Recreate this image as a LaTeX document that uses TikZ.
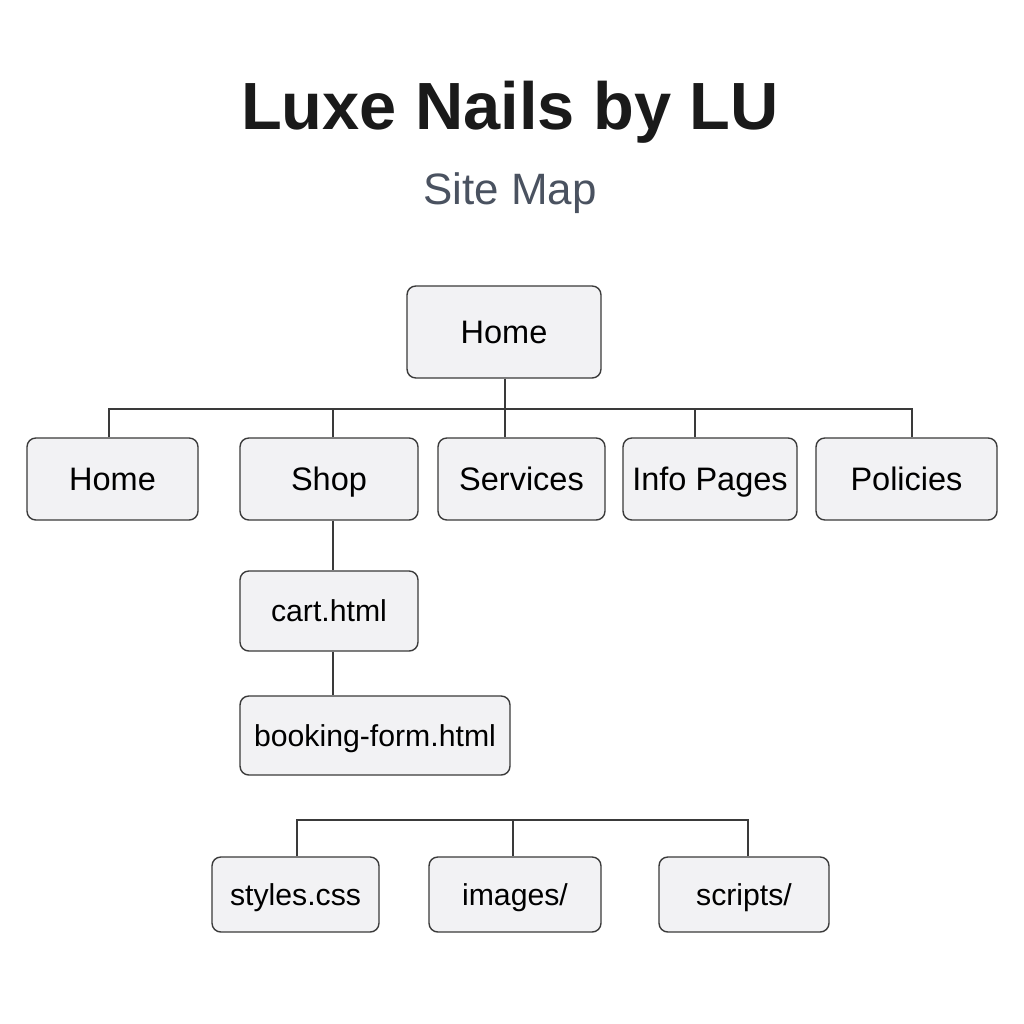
\documentclass[tikz,border=0pt]{standalone}
\usepackage{fontspec}
\setmainfont{Liberation Sans}
\usepackage{xcolor}
\usepackage{tikz}
\usetikzlibrary{positioning}
\definecolor{boxfill}{HTML}{F2F2F4}
\definecolor{boxline}{HTML}{3A3A3A}
\definecolor{subgray}{HTML}{4A5260}
\definecolor{titleblack}{HTML}{1A1A1A}

\begin{document}
\begin{tikzpicture}[
        x=0.02cm, y=-0.02cm,
        pagebox/.style={draw=boxline, line width=0.8pt, fill=boxfill, rectangle, rounded corners=5pt, align=center, inner sep=0pt, text height=13.3pt, text depth=0pt, font=\fontsize{18.5}{22}\selectfont},
        filebox/.style={pagebox, text height=12.4pt, font=\fontsize{17.2}{21}\selectfont},
        link/.style={draw=boxline, line width=0.7pt}
    ]
        \useasboundingbox[fill=white] (0,0) rectangle (1024,1024);

        % Title
        \node[font=\fontsize{38}{44}\bfseries\selectfont, text=titleblack] (title) at (510,112) {Luxe Nails by LU};
        \node[font=\fontsize{25}{30}\selectfont, text=subgray] (subtitle) at (510,193) {Site Map};

        % Root node
        \node[pagebox, minimum width=3.88cm, minimum height=1.84cm] (root) at (504,332) {Home};

        % Level 1 nodes
        \node[pagebox, minimum width=3.42cm, minimum height=1.64cm] (home) at (112.5,479) {Home};
        \node[pagebox, minimum width=3.56cm, minimum height=1.64cm] (shop) at (329,479) {Shop};
        \node[pagebox, minimum width=3.34cm, minimum height=1.64cm] (services) at (521.5,479) {Services};
        \node[pagebox, minimum width=3.48cm, minimum height=1.64cm] (info) at (710,479) {Info Pages};
        \node[pagebox, minimum width=3.62cm, minimum height=1.64cm] (policies) at (906.5,479) {Policies};

        % Shop pages
        \node[filebox, minimum width=3.56cm, minimum height=1.60cm] (cart) at (329,611) {cart.html};
        \node[filebox, minimum width=5.40cm, minimum height=1.58cm] (booking) at (375,735.5) {booking-form.html};

        % Assets
        \node[filebox, minimum width=3.34cm, minimum height=1.50cm] (styles) at (295.5,894.5) {styles.css};
        \node[filebox, minimum width=3.44cm, minimum height=1.50cm] (images) at (515,894.5) {images/};
        \node[filebox, minimum width=3.40cm, minimum height=1.50cm] (scripts) at (744,894.5) {scripts/};

        % Bus points
        \coordinate (mainbus) at (505,409);
        \coordinate (assetbus) at (513,820);

        % Connect nodes
        \draw[link] (root.south -| mainbus) -- (mainbus);
        \draw[link] ([xshift=-3.5*0.02cm]home.north) |- (mainbus);
        \draw[link] ([xshift=4*0.02cm]shop.north) -- ([xshift=4*0.02cm]shop.north |- mainbus);
        \draw[link] (services.north -| mainbus) -- (mainbus);
        \draw[link] ([xshift=-15*0.02cm]info.north) -- ([xshift=-15*0.02cm]info.north |- mainbus);
        \draw[link] ([xshift=5.5*0.02cm]policies.north) |- (mainbus);
        \draw[link] ([xshift=4*0.02cm]shop.south) -- ([xshift=4*0.02cm]shop.south |- cart.north);
        \draw[link] ([xshift=4*0.02cm]cart.south) -- ([xshift=4*0.02cm]cart.south |- booking.north);
        \draw[link] ([xshift=1.5*0.02cm]styles.north) |- (assetbus);
        \draw[link] ([xshift=-2*0.02cm]images.north) -- (assetbus);
        \draw[link] ([xshift=4*0.02cm]scripts.north) |- (assetbus);
    \end{tikzpicture}
\end{document}
